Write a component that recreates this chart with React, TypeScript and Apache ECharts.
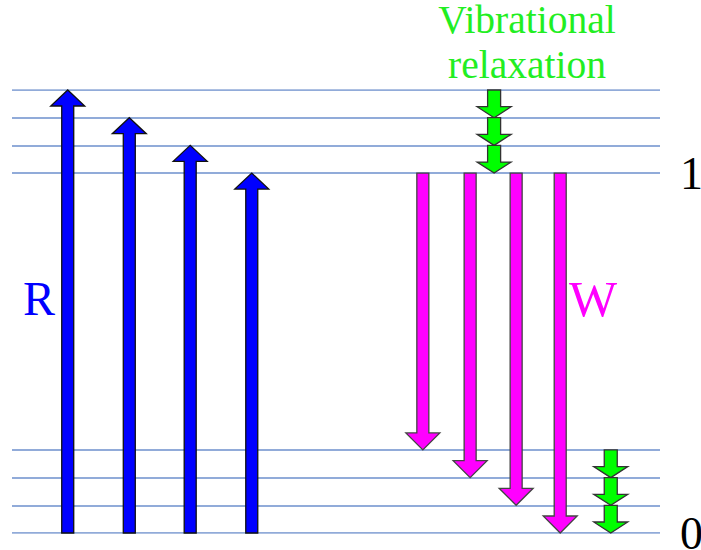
import React, { useEffect, useRef } from "react";
import * as echarts from "echarts";

// Energy levels (vibrational levels of ground state "0" and excited state "1")
const groundLevels = [0, 1, 2, 3];
const excitedLevels = [13, 14, 15, 16];

// Absorption arrows R: [x, fromLevel, toLevel]
const absorptionArrows = [
  [8.6, 0, 16],
  [18.1, 0, 15],
  [27.5, 0, 14],
  [37.0, 0, 13],
];

// Emission arrows W: [x, fromLevel, toLevel]
const emissionArrows = [
  [63.4, 13, 3],
  [70.7, 13, 2],
  [77.8, 13, 1],
  [84.6, 13, 0],
];

// Vibrational relaxation arrows: [x, fromLevel, toLevel]
const relaxationArrows = [
  [74.4, 16, 15],
  [74.4, 15, 14],
  [74.4, 14, 13],
  [92.4, 3, 2],
  [92.4, 2, 1],
  [92.4, 1, 0],
];

// Y tick labels (state labels on the right)
const tickValues = [0, 13];
const tickLabels = ["0", "1"];

const SERIF = "Liberation Serif";

function arrowRenderer(
  fill: string,
  stroke: string,
  shaftW: number,
  headW: number,
  headL: number
) {
  return (params: any, api: any) => {
    const x = api.value(0);
    const y0 = api.value(1);
    const y1 = api.value(2);
    const p0 = api.coord([x, y0]);
    const p1 = api.coord([x, y1]);
    const dir = p1[1] > p0[1] ? 1 : -1;
    const cx = p0[0];
    const baseY = p1[1] - dir * headL;
    const pts = [
      [cx - shaftW / 2, p0[1]],
      [cx - shaftW / 2, baseY],
      [cx - headW / 2, baseY],
      [cx, p1[1]],
      [cx + headW / 2, baseY],
      [cx + shaftW / 2, baseY],
      [cx + shaftW / 2, p0[1]],
    ];
    return {
      type: "polygon",
      shape: { points: pts },
      style: { fill, stroke, lineWidth: 1.3 },
    };
  };
}

function titleEl(text: string, x: number, y: number, color: string, size: number) {
  return {
    text,
    left: x,
    top: y,
    textAlign: "center",
    textVerticalAlign: "middle",
    padding: 0,
    textStyle: {
      color,
      fontFamily: SERIF,
      fontSize: size,
      fontWeight: "normal",
    },
  };
}

export default function App() {
  const ref = useRef<HTMLDivElement>(null);

  useEffect(() => {
    if (!ref.current) return;
    const chart = echarts.init(ref.current, undefined, { renderer: "svg" });
    const allLevels = [...groundLevels, ...excitedLevels];

    chart.setOption({
      animation: false,
      backgroundColor: "#ffffff",
      title: [
        titleEl("Vibrational", 527, 20, "#22ee22", 39.5),
        titleEl("relaxation", 527, 65, "#22ee22", 39.5),
        titleEl("R", 39, 298, "#0000ff", 48),
        titleEl("W", 593, 299, "#ff00ff", 51),
      ],
      grid: {
        left: 12,
        right: 41,
        top: 90,
        bottom: 17,
        containLabel: false,
        outerBoundsMode: "none",
      },
      xAxis: {
        type: "value",
        min: 0,
        max: 100,
        show: false,
      },
      yAxis: {
        type: "value",
        position: "right",
        min: 0,
        max: 16,
        interval: 1,
        axisLine: { show: false },
        axisTick: { show: false },
        splitLine: { show: false },
        axisLabel: {
          margin: 20,
          color: "#000",
          fontFamily: SERIF,
          fontSize: 46,
          formatter: (v: number) => {
            const i = tickValues.indexOf(v);
            return i >= 0 ? tickLabels[i] : "";
          },
        },
      },
      series: [
        {
          type: "lines",
          coordinateSystem: "cartesian2d",
          silent: true,
          z: 1,
          lineStyle: { color: "#6d8fcc", width: 1.6, opacity: 1 },
          data: allLevels.map((v) => ({ coords: [[0, v], [100, v]] })),
        },
        {
          type: "custom",
          z: 3,
          renderItem: arrowRenderer("#0000ff", "#111", 12, 34, 16),
          encode: { x: 0, y: [1, 2] },
          data: absorptionArrows,
        },
        {
          type: "custom",
          z: 3,
          renderItem: arrowRenderer("#ff00ff", "#444", 12, 34, 17),
          encode: { x: 0, y: [1, 2] },
          data: emissionArrows,
        },
        {
          type: "custom",
          z: 4,
          renderItem: arrowRenderer("#00ff00", "#333", 13, 34, 11),
          encode: { x: 0, y: [1, 2] },
          data: relaxationArrows,
        },
      ],
    });

    return () => chart.dispose();
  }, []);

  return (
    <div
      ref={ref}
      style={{ position: "fixed", left: 0, top: 0, width: 701, height: 550 }}
    />
  );
}
